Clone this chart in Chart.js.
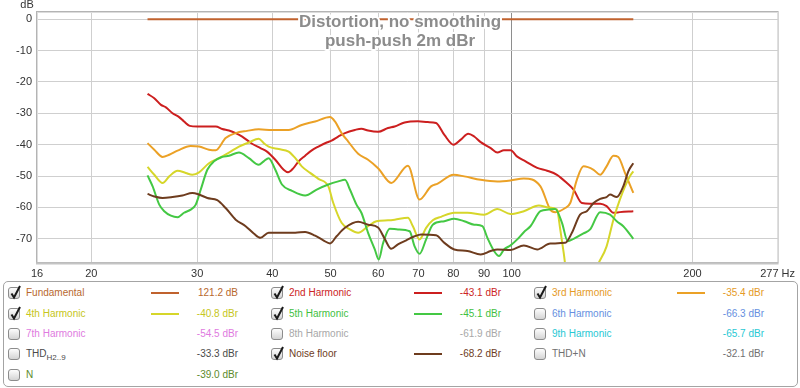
<!DOCTYPE html>
<html><head><meta charset="utf-8">
<script src="https://cdn.jsdelivr.net/npm/chart.js@4/dist/chart.umd.min.js"></script>
<style>
html,body{margin:0;padding:0;background:#fff;width:800px;height:388px;overflow:hidden;font-family:"Liberation Sans",Arial,sans-serif;}
#wrap{position:absolute;left:0;top:0;width:800px;height:280px;}
#legend{position:absolute;left:3px;top:281px;width:795px;height:106px;box-sizing:border-box;border:1px solid #a4a4a4;border-radius:5px;}
.it{position:absolute;font-size:10px;white-space:nowrap;line-height:12px;}
.cb{position:absolute;width:12px;height:12px;box-sizing:border-box;border:1px solid #8c8c8c;border-radius:3px;background:linear-gradient(#fdfdfd,#d4d4d4);}
.cb svg{position:absolute;left:0px;top:-4px;}
.ln{position:absolute;height:2px;}
.val{position:absolute;text-align:right;width:70px;font-size:10px;line-height:12px;white-space:nowrap;}
sub{font-size:8px;vertical-align:-3px;line-height:0;}
</style></head>
<body>
<div id="wrap"><canvas id="c" width="800" height="280"></canvas></div>
<div id="legend"></div>
<script>
// ---- axes ----
const xTickValues = [16.24, 20, 30, 40, 50, 60, 70, 80, 90, 100, 200, 277];
const xTickLabels = ['16', '20', '30', '40', '50', '60', '70', '80', '90', '100', '200', '277 Hz'];
const yTickValues = [0, -10, -20, -30, -40, -50, -60, -70];

// ---- series (frequency in Hz, level in dB) ----
const freqFund = [24.8, 159.4];
const dbFund = [0, 0];

const freq2 = [24.80,25.45,26.11,26.61,27.29,27.99,28.52,29.15,30.01,32.20,33.02,33.88,34.76,35.64,37.01,38.22,39.19,40.46,41.77,42.47,43.40,44.23,45.36,46.52,47.72,49.26,50.19,51.49,52.83,54.87,56.26,57.72,59.97,62.29,63.90,66.38,69.84,72.56,74.88,77.31,80.08,82.33,84.70,86.67,88.84,92.32,94.69,97.14,99.62,102.2,105.5,110.3,114.6,119.0,123.6,126.8,130.9,135.1,140.4,143.9,147.7,151.4,159.4];
const db2 = [-23.8,-25.2,-27.3,-28.1,-30.0,-31.2,-32.6,-34.0,-34.2,-34.2,-35.0,-35.5,-36.3,-37.4,-39.7,-41.1,-42.2,-44.8,-48.0,-48.8,-47.4,-45.3,-43.5,-41.8,-40.6,-39.3,-38.7,-37.4,-36.3,-35.3,-34.9,-35.5,-35.9,-34.7,-34.2,-32.9,-32.5,-32.8,-33.1,-36.9,-40.0,-38.4,-36.5,-37.4,-39.2,-41.1,-42.5,-41.8,-41.8,-43.8,-45.3,-47.4,-48.3,-49.6,-52.2,-54.3,-58.6,-58.8,-58.8,-59.6,-61.7,-61.5,-61.2];

const freq3 = [24.80,25.45,26.27,26.95,27.82,29.26,30.21,31.38,32.20,33.45,34.76,36.31,37.97,39.94,42.58,44.77,47.12,49.89,50.84,52.15,53.49,55.57,57.72,59.97,63.08,67.24,70.29,73.46,75.36,80.08,83.42,88.84,94.69,99.62,104.8,111.7,116.0,118.2,122.8,125.2,128.4,131.7,136.9,140.4,143.9,147.7,150.5,154.4,157.3,159.4];
const db3 = [-39.5,-41.6,-43.9,-43.2,-41.9,-40.4,-40.6,-41.6,-41.8,-37.9,-36.3,-35.6,-35.1,-35.3,-35.3,-33.7,-32.6,-31.2,-32.6,-36.3,-39.0,-42.9,-44.8,-47.5,-52.2,-46.7,-57.5,-53.3,-52.4,-49.6,-50.1,-51.2,-51.7,-51.4,-50.8,-53.3,-60.7,-61.5,-60.2,-58.6,-51.2,-46.9,-48.0,-49.6,-46.9,-43.5,-43.9,-49.0,-52.7,-55.4];

const freq4 = [24.80,25.45,26.27,26.95,27.82,28.71,29.44,30.21,31.38,32.60,33.88,35.20,36.56,37.97,38.70,39.44,40.98,42.58,43.68,44.77,46.23,47.72,49.57,50.52,52.15,53.84,55.57,57.72,59.58,62.29,63.90,67.24,68.53,70.29,72.09,73.94,76.33,80.29,84.48,90.00,94.69,99.62,104.8,111.0,115.3,119.0,120.5,122.1,123.6,128.4,133.4,138.6,143.9,147.7,151.4,157.3,159.4];
const db4 = [-47.1,-49.6,-52.2,-50.1,-48.3,-49.0,-49.6,-48.8,-45.9,-44.3,-42.5,-40.6,-39.3,-38.1,-39.5,-40.6,-41.4,-42.2,-44.3,-46.9,-49.0,-50.9,-53.3,-58.6,-64.9,-67.0,-68.1,-66.0,-64.4,-64.1,-63.9,-63.3,-66.0,-70.2,-66.5,-64.1,-63.0,-61.7,-61.7,-62.3,-60.5,-62.1,-61.2,-59.4,-60.0,-60.7,-67.0,-74.5,-82.0,-88.0,-88.0,-79.0,-72.4,-63.9,-57.5,-50.1,-48.5];

const freq5 = [24.80,25.29,25.94,26.44,27.12,27.82,28.52,29.26,29.83,30.41,31.18,31.99,33.02,33.88,35.20,36.56,37.97,38.70,39.44,40.46,41.50,43.12,45.36,47.41,49.57,51.49,52.83,53.84,55.21,56.26,57.72,59.22,60.12,61.11,62.70,64.71,67.67,68.98,70.29,72.09,73.94,77.31,80.29,83.42,86.67,89.42,91.16,93.52,95.32,97.14,99.62,102.2,104.8,107.5,111.7,115.3,118.2,121.3,124.0,126.8,131.7,135.1,140.4,145.8,149.6,153.4,159.4];
const db5 = [-49.8,-53.3,-59.1,-61.2,-62.6,-63.1,-61.7,-60.7,-59.1,-54.3,-48.0,-45.3,-43.9,-43.5,-42.5,-44.3,-46.4,-45.3,-44.3,-48.0,-52.7,-54.7,-56.2,-54.3,-52.7,-51.7,-51.2,-54.3,-59.1,-61.7,-68.1,-73.4,-76.6,-71.5,-66.8,-67.0,-67.6,-72.4,-74.8,-70.2,-65.5,-64.4,-63.6,-64.4,-65.5,-66.0,-69.7,-73.9,-75.5,-73.4,-72.1,-70.2,-67.9,-66.0,-61.2,-60.7,-60.5,-64.9,-70.8,-70.0,-68.3,-67.0,-61.5,-62.3,-64.4,-66.0,-70.0];

const freqN = [24.80,25.45,26.27,27.29,28.34,29.44,30.21,31.18,32.39,33.45,34.76,36.11,37.25,38.22,39.44,41.50,43.68,45.36,47.12,48.63,49.89,51.16,52.83,55.57,57.72,59.97,61.51,63.08,64.71,66.80,68.98,70.73,74.88,77.31,80.29,84.48,88.84,92.32,94.69,99.62,104.8,110.3,116.0,122.8,126.0,130.0,133.4,136.9,140.4,143.9,145.8,149.6,153.4,156.4,159.4];
const dbN = [-55.7,-56.5,-57.0,-56.7,-56.2,-55.4,-55.9,-57.0,-57.7,-60.2,-63.9,-66.0,-68.3,-69.7,-68.1,-68.1,-68.1,-67.8,-69.0,-70.5,-71.5,-69.2,-66.5,-64.6,-65.5,-66.4,-70.0,-73.2,-71.8,-70.5,-69.2,-68.6,-68.9,-71.3,-73.4,-73.9,-75.0,-73.9,-73.4,-73.6,-72.1,-73.4,-71.5,-71.3,-68.1,-62.3,-61.2,-58.6,-57.3,-56.7,-55.9,-56.7,-53.3,-48.5,-45.9];

// ---- legend ----
const legendNames = ['Fundamental','2nd Harmonic','3rd Harmonic','4th Harmonic','5th Harmonic','6th Harmonic','7th Harmonic','8th Harmonic','9th Harmonic','THD<sub>H2..9</sub>','Noise floor','THD+N','N'];
const legendValues = ['121.2 dB','-43.1 dBr','-35.4 dBr','-40.8 dBr','-45.1 dBr','-66.3 dBr','-54.5 dBr','-61.9 dBr','-65.7 dBr','-33.3 dBr','-68.2 dBr','-32.1 dBr','-39.0 dBr'];
const legendChecked = [true,true,true,true,true,false,false,false,false,false,true,false,false];
const legendTextColors = ['#b8682e','#cc2424','#e59a25','#c6c620','#3fbf3f','#6690e0','#e07ae0','#a8a8a8','#28c8d4','#4a4a4a','#6e3c1e','#707070','#5c8a2a'];
const lineColors = {fund:'#c0622e', h2:'#cc1f1f', h3:'#eba126', h4:'#d6d62a', h5:'#44c844', noise:'#6e3c1e'};
const legendLineColors = [lineColors.fund,lineColors.h2,lineColors.h3,lineColors.h4,lineColors.h5,null,null,null,null,null,lineColors.noise,null,null];

const lg = document.getElementById('legend');
const rowTop = [5, 26, 46, 66, 87];
legendNames.forEach((nm,i)=>{
  const col = i % 3, row = Math.floor(i/3);
  const bx = col*263 + 4, t = rowTop[row];
  const cb = document.createElement('div');
  cb.className='cb'; cb.style.left=bx+'px'; cb.style.top=(t)+'px';
  if(legendChecked[i]) cb.innerHTML='<svg width="14" height="16"><polyline points="2.5,9.5 5,13.5 11,2" fill="none" stroke="#1a1a1a" stroke-width="2"/></svg>';
  lg.appendChild(cb);
  const lb = document.createElement('div');
  lb.className='it'; lb.style.left=(bx+18)+'px'; lb.style.top=(t)+'px'; lb.style.color=legendTextColors[i];
  lb.innerHTML = nm; lg.appendChild(lb);
  if(legendLineColors[i]){
    const ln=document.createElement('div'); ln.className='ln';
    ln.style.left=(bx+143)+'px'; ln.style.width='28px'; ln.style.top=(t+5)+'px'; ln.style.background=legendLineColors[i];
    lg.appendChild(ln);
  }
  const v=document.createElement('div'); v.className='val';
  v.style.left=(bx+160)+'px'; v.style.top=(t)+'px'; v.style.color=legendTextColors[i]; v.textContent=legendValues[i];
  lg.appendChild(v);
});

// ---- chart ----
const pts=(f,d)=>f.map((x,i)=>({x:x,y:d[i]}));
const mk=(label,f,d,c)=>({label:label,data:pts(f,d),borderColor:c,borderWidth:2,pointRadius:0,fill:false,cubicInterpolationMode:'monotone'});

const framePlugin = {
  id:'frame',
  afterDatasetsDraw(chart){
    const ctx=chart.ctx, a=chart.chartArea;
    ctx.save();
    ctx.strokeStyle='#b4b4b4'; ctx.lineWidth=1;
    ctx.strokeRect(a.left-0.5, a.top-0.5, a.right-a.left+1, a.bottom-a.top+1);
    ctx.strokeStyle='#dcdcdc'; ctx.lineWidth=1;
    ctx.beginPath(); ctx.moveTo(a.left+0.5,a.top); ctx.lineTo(a.left+0.5,a.bottom); ctx.stroke();
    ctx.beginPath(); ctx.moveTo(a.left,a.top+0.5); ctx.lineTo(a.right,a.top+0.5); ctx.stroke();
    ctx.strokeStyle='#c4c4c4'; ctx.lineWidth=2;
    ctx.beginPath(); ctx.moveTo(a.left-1,a.bottom+1.5); ctx.lineTo(a.right+1,a.bottom+1.5); ctx.stroke();
    // title
    ctx.font='bold 17px "Liberation Sans", Arial, sans-serif';
    ctx.textAlign='center'; ctx.textBaseline='middle'; ctx.lineJoin='round';
    const cx=400;
    [['Distortion, no smoothing',22],['push-push 2m dBr',41]].forEach(([s,y])=>{
      ctx.strokeStyle='#fff'; ctx.lineWidth=4; ctx.strokeText(s,cx,y);
      ctx.fillStyle='#8c8c8c'; ctx.fillText(s,cx,y);
    });
    // unit
    ctx.font='11px "Liberation Sans", Arial, sans-serif';
    ctx.fillStyle='#333'; ctx.textAlign='center';
    ctx.fillText('dB',27,5);
    ctx.restore();
  }
};

new Chart(document.getElementById('c'),{
  type:'line',
  data:{datasets:[
    mk('Noise floor',freqN,dbN,lineColors.noise),
    mk('5th Harmonic',freq5,db5,lineColors.h5),
    mk('4th Harmonic',freq4,db4,lineColors.h4),
    mk('3rd Harmonic',freq3,db3,lineColors.h3),
    mk('2nd Harmonic',freq2,db2,lineColors.h2),
    mk('Fundamental',freqFund,dbFund,lineColors.fund)
  ]},
  options:{
    responsive:false, animation:false,
    layout:{padding:{top:12,right:18,left:0,bottom:0}},
    plugins:{legend:{display:false},tooltip:{enabled:false},title:{display:false}},
    scales:{
      x:{type:'logarithmic',min:16.24,max:277,
        afterBuildTicks:s=>{s.ticks=xTickValues.map(v=>({value:v}));},
        afterFit:s=>{s.height=18;},
        border:{display:false},
        grid:{drawTicks:false,lineWidth:1,
          color:c=>{const v=c.tick?c.tick.value:0; if(v===100) return '#8e8e8e'; if(v===16.24||v===277) return 'rgba(0,0,0,0)'; return '#cfcfcf';}},
        ticks:{autoSkip:false,maxRotation:0,padding:5,color:'#333',font:{family:'"Liberation Sans", Arial, sans-serif',size:11},
          callback:(v,i)=>xTickLabels[i]}
      },
      y:{type:'linear',min:-77.4,max:2.3,
        afterBuildTicks:s=>{s.ticks=yTickValues.map(v=>({value:v}));},
        afterFit:s=>{s.width=37;},
        border:{display:false},
        grid:{drawTicks:false,lineWidth:1,color:'#cfcfcf'},
        ticks:{padding:5,color:'#333',font:{family:'"Liberation Sans", Arial, sans-serif',size:11},
          callback:v=>String(v)}
      }
    }
  },
  plugins:[framePlugin]
});
</script>
</body></html>
